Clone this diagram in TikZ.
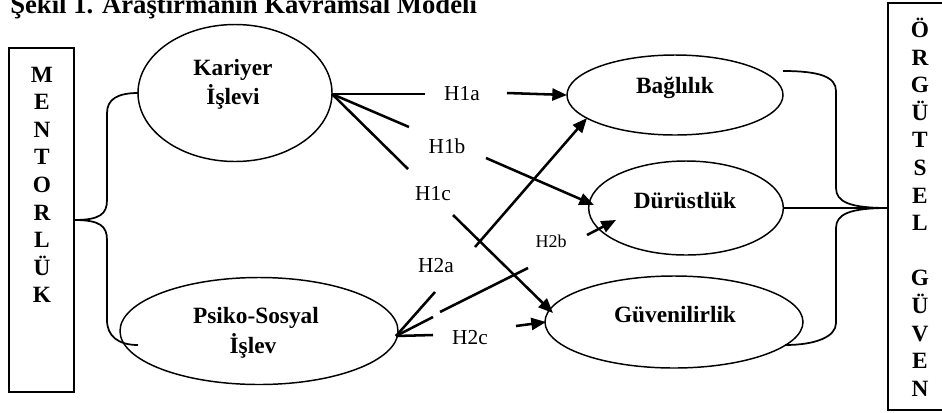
\documentclass[tikz,border=0pt]{standalone}
\usepackage{fontspec}
\setmainfont{Liberation Serif}
\usetikzlibrary{shapes.geometric,arrows.meta}
\begin{document}
\begin{tikzpicture}[x=0.75pt,y=-0.75pt,
  ell/.style={draw,ellipse,line width=1.1pt,inner sep=0pt,outer sep=0pt},
  bx/.style={draw,line width=1.4pt,inner sep=0pt,outer sep=0pt},
  bold/.style={font=\bfseries\fontsize{17.5}{20}\selectfont,anchor=base,inner sep=0pt},
  hlbl/.style={font=\fontsize{16}{18}\selectfont,anchor=base,inner sep=0pt},
  hsmall/.style={font=\fontsize{13.5}{15}\selectfont,anchor=base,inner sep=0pt},
  seg/.style={line width=1.9pt},
  arr/.style={line width=1.9pt,-{Triangle[length=11pt,width=9pt]}},
  brace/.style={line width=1.3pt}]
\useasboundingbox (0,0) rectangle (942,412);

% title (cut at top, as in the reference)
\node[font=\bfseries\fontsize{20}{22}\selectfont,anchor=base west,inner sep=0pt] (title) at (10,13) {Şekil 1. Araştırmanın Kavramsal Modeli};

% boxes
\node[bx,minimum width=48.75pt,minimum height=258pt] (mbox) at (41.5,220) {};
\node[bx,minimum width=48pt,minimum height=305.25pt] (obox) at (920,206.5) {};
\foreach \l [count=\i from 0] in {M,E,N,T,O,R,L,Ü,K}
  \node[bold] (m\i) at (42,82+27.6*\i) {\l};
\foreach \l [count=\i from 0] in {Ö,R,G,Ü,T,S,E,L,{},G,Ü,V,E,N}
  \node[bold] (o\i) at (920,37.4+27.6*\i) {\l};

% ellipses
\node[ell,minimum width=145.5pt,minimum height=102.75pt] (kar) at (235,93) {};
\node[ell,minimum width=208.5pt,minimum height=80.25pt] (psi) at (259,331) {};
\node[ell,minimum width=162pt,minimum height=60pt] (bag) at (675,95) {};
\node[ell,minimum width=146pt,minimum height=70.5pt] (dur) at (686,208) {};
\node[ell,minimum width=193.5pt,minimum height=69pt] (guv) at (674,322) {};

\node[bold] (kar1) at (233,75) {Kariyer};
\node[bold] (kar2) at (233,104) {İşlevi};
\node[bold] (psi1) at (256,323) {Psiko-Sosyal};
\node[bold] (psi2) at (253,353) {İşlev};
\node[bold] (bag1) at (675,93) {Bağlılık};
\node[bold] (dur1) at (685,208) {Dürüstlük};
\node[bold] (guv1) at (675,322) {Güvenilirlik};

% left brace
\coordinate (mj) at (74,220);
\draw[brace] (mj) .. controls (100,220) and (107,214) .. (107,200) -- (107,113)
   .. controls (107,99) and (118,93) .. (kar.west);
\coordinate (pe) at (138,345);
\draw[brace] (mj) .. controls (100,220) and (107,226) .. (107,240) -- (107,320)
   .. controls (107,336) and (118,345) .. (pe);

% right brace
\coordinate (oj) at (888,208);
\coordinate (be) at (783,71);
\coordinate (ge) at (785,345);
\draw[brace] (oj) .. controls (850,208) and (836,202) .. (836,188) -- (836,91)
   .. controls (836,77) and (820,71) .. (be);
\draw[brace] (oj) .. controls (850,208) and (836,214) .. (836,228) -- (836,323)
   .. controls (836,337) and (815,345) .. (ge);
\draw[line width=1.1pt] (dur.east) -- (oj);

% H labels
\node[hlbl] (h1a) at (462,100) {H1a};
\node[hlbl] (h1b) at (447,153) {H1b};
\node[hlbl] (h1c) at (433,200) {H1c};
\node[hlbl] (h2a) at (436,272) {H2a};
\node[hsmall] (h2b) at (551,247) {H2b};
\node[hlbl] (h2c) at (470,344) {H2c};

% coordinates for segment ends
\coordinate (ka) at (332,94);
\coordinate (a1) at (425,94);
\coordinate (b1) at (409,127);
\coordinate (c1) at (408,169);
\coordinate (a1s) at (507,93);
\coordinate (b1s) at (486,158);
\coordinate (c1s) at (453,215);
\coordinate (b1t) at (594,205);
\coordinate (c1t) at (553,313);

\coordinate (pj) at (396,336);
\coordinate (a2) at (435,292);
\coordinate (b2) at (433,317);
\coordinate (c2) at (433,335);
\coordinate (a2s) at (475,247);
\coordinate (a2t) at (587,118);
\coordinate (b2m1) at (440,312);
\coordinate (b2m2) at (528,268);
\coordinate (b2s) at (587,235);
\coordinate (b2t) at (616,220);
\coordinate (c2s) at (516,326);
\coordinate (c2t) at (546,322);

% Kariyer connectors
\draw[seg] (ka) -- (a1);
\draw[seg] (ka) -- (b1);
\draw[seg] (ka) -- (c1);
\draw[arr] (a1s) -- (bag.west);
\draw[arr] (b1s) -- (b1t);
\draw[arr] (c1s) -- (c1t);

% Psiko connectors
\draw[seg] (pj) -- (a2);
\draw[seg] (pj) -- (b2);
\draw[seg] (pj) -- (c2);
\draw[arr] (a2s) -- (a2t);
\draw[seg] (b2m1) -- (b2m2);
\draw[arr] (b2s) -- (b2t);
\draw[arr] (c2s) -- (c2t);
\end{tikzpicture}
\end{document}
